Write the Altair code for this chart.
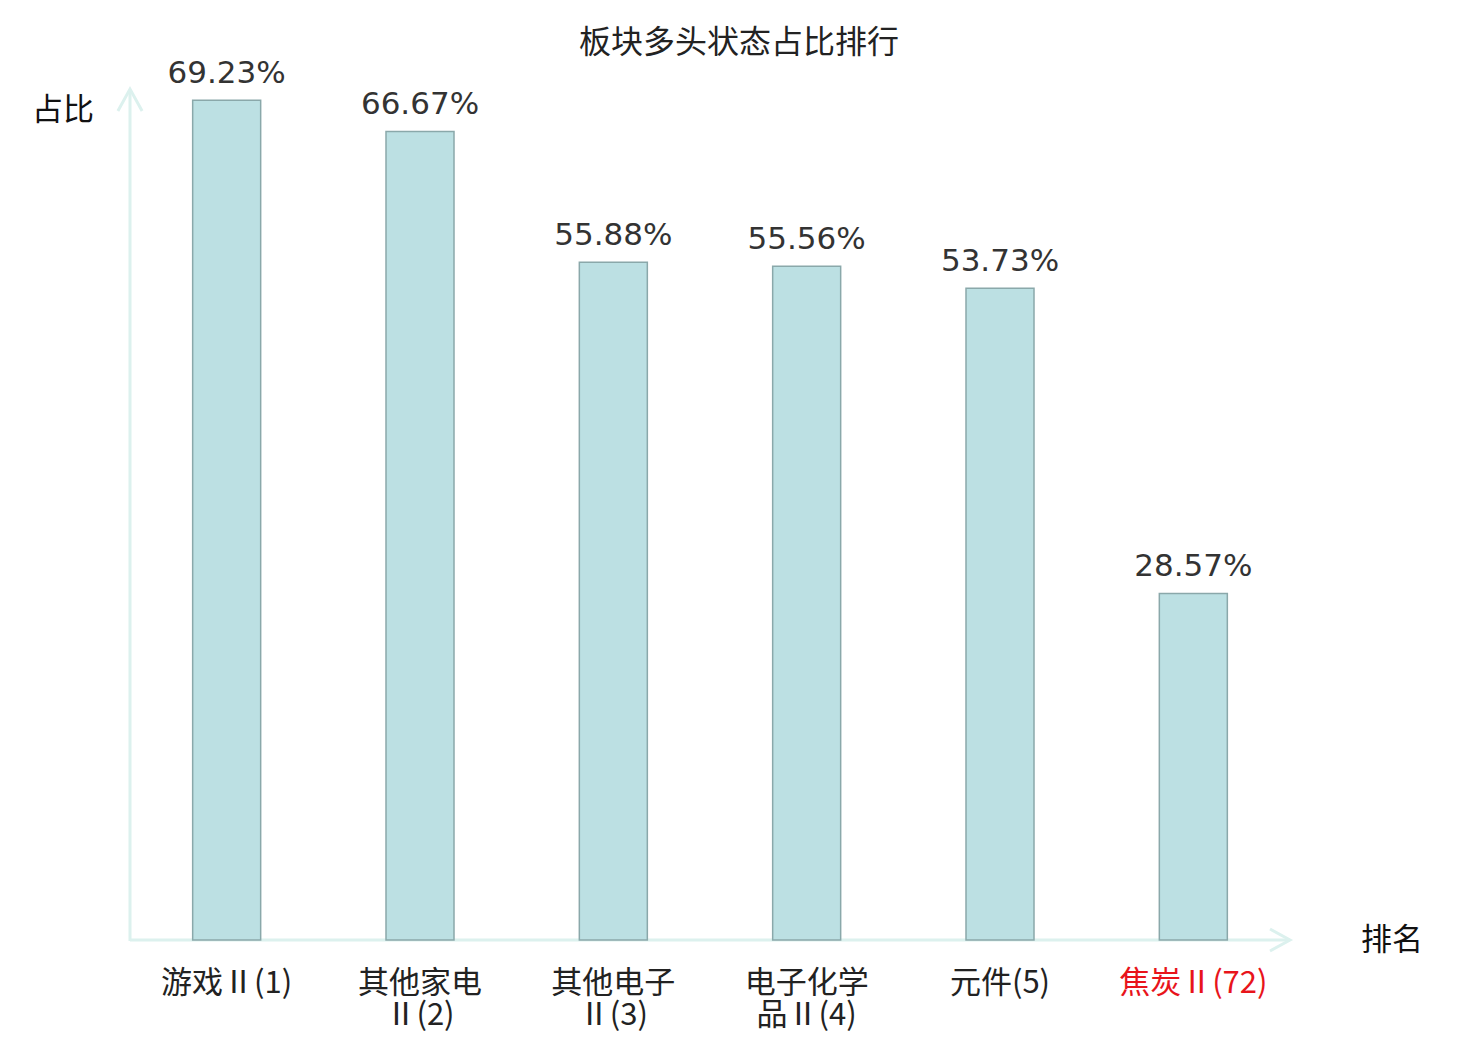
import altair as alt
import pandas as pd

categories = ["游戏Ⅱ(1)", "其他家电Ⅱ(2)", "其他电子Ⅱ(3)", "电子化学品Ⅱ(4)", "元件(5)", "焦炭Ⅱ(72)"]
tick_labels = ["游戏Ⅱ(1)", "其他家电\nⅡ(2)", "其他电子\nⅡ(3)", "电子化学\n品Ⅱ(4)", "元件(5)", "焦炭Ⅱ(72)"]
values = [69.23, 66.67, 55.88, 55.56, 53.73, 28.57]
highlight = [False, False, False, False, False, True]

df = pd.DataFrame({"cat": categories, "tick": tick_labels, "value": values, "hl": highlight})
one = pd.DataFrame({"k": [0]})

W, H = 1160, 849
AXIS_COLOR = "#dcf1ee"

xs = alt.X("cat:N", sort=categories, axis=None,
           scale=alt.Scale(paddingInner=0, paddingOuter=0))
ys = alt.Y("value:Q", axis=None, scale=alt.Scale(domain=[0, 70], nice=False))

base = alt.Chart(df)

bars = base.mark_bar(size=68, color="#bce0e3", stroke="#8aa8aa", strokeWidth=1.5).encode(x=xs, y=ys)

vlabels = base.transform_calculate(
    lab="format(datum.value, '.2f') + '%'"
).mark_text(font="DejaVu Sans", fontSize=31, color="#333333", baseline="alphabetic", dy=-17).encode(
    x=xs, y=ys, text="lab:N"
)

clabels = base.mark_text(font="Noto Sans CJK SC", fontSize=31, baseline="top",
                         lineBreak="\n", lineHeight=32).encode(
    x=xs,
    y=alt.value(H + 29),
    text="tick:N",
    color=alt.condition("datum.hl", alt.value("#e8141b"), alt.value("#222222")),
)

deco = alt.Chart(one)
yline = deco.mark_rule(color=AXIS_COLOR, strokeWidth=3).encode(
    x=alt.value(0), y=alt.value(-1), y2=alt.value(H + 1))
xline = deco.mark_rule(color=AXIS_COLOR, strokeWidth=3).encode(
    x=alt.value(0), x2=alt.value(W), y=alt.value(H))
yarrow = deco.mark_point(shape="M-0.55,1L0,0L0.55,1", size=1936, filled=False,
                         stroke=AXIS_COLOR, strokeWidth=3, opacity=1).encode(
    x=alt.value(0), y=alt.value(-2))
xarrow = deco.mark_point(shape="M-1,-0.55L0,0L-1,0.55", size=1600, filled=False,
                         stroke=AXIS_COLOR, strokeWidth=3, opacity=1).encode(
    x=alt.value(W), y=alt.value(H))

title = deco.mark_text(font="Noto Sans CJK SC", fontSize=32, color="#222222", baseline="middle").encode(
    x=alt.value(609), y=alt.value(-48), text=alt.value("板块多头状态占比排行"))
ytitle = deco.mark_text(font="Noto Sans CJK SC", fontSize=31, color="#111111", baseline="middle").encode(
    x=alt.value(-67), y=alt.value(20), text=alt.value("占比"))
xtitle = deco.mark_text(font="Noto Sans CJK SC", fontSize=31, color="#111111", baseline="middle").encode(
    x=alt.value(1262), y=alt.value(H + 1), text=alt.value("排名"))

chart = alt.layer(
    yline, xline, yarrow, xarrow, bars, vlabels, clabels, title, ytitle, xtitle
).properties(
    width=W, height=H,
    autosize=alt.AutoSizeParams(type="none"),
    padding={"left": 122, "top": 83, "right": 180, "bottom": 100},
).configure_view(stroke=None)

chart.save("out.html", embed_options={"renderer": "svg", "actions": False})
